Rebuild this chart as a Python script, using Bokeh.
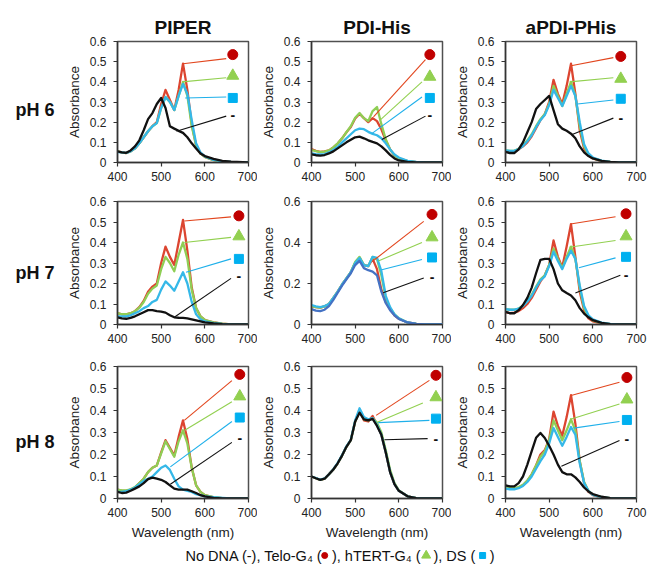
from bokeh.plotting import figure
from bokeh.layouts import column, row
from bokeh.models import Range1d, FixedTicker, ColumnDataSource
from bokeh.embed import file_html
from bokeh.resources import INLINE
from bokeh.core.properties import value

# ---------------- data ----------------
wavelength = [400, 410, 420, 430, 440, 450, 460, 470, 480, 490, 500, 510, 520,
              530, 540, 550, 560, 570, 580, 590, 600, 620, 640, 660, 700]
compounds = ["PIPER", "PDI-His", "aPDI-PHis"]
ph_labels = ["pH 6", "pH 7", "pH 8"]
x_ticks = [400, 500, 600, 700]
y_ticks_fine = [0, 0.1, 0.2, 0.3, 0.4, 0.5, 0.6]
y_labels_fine = ["0", "0.1", "0.2", "0.3", "0.4", "0.5", "0.6"]
y_ticks_coarse = [0, 0.2, 0.4, 0.6]
y_labels_coarse = ["0", "0.2", "0.4", "0.6"]

piper_ph6_none = [.055, .05, .048, .06, .08, .11, .16, .215, .245, .29, .32, .27, .18, .168, .157, .147, .125, .095, .07, .045, .032, .018, .008, .004, 0]
piper_ph6_telo = [.055, .05, .047, .055, .07, .095, .125, .155, .18, .2, .29, .36, .31, .26, .36, .49, .36, .19, .085, .045, .028, .012, .005, .002, 0]
piper_ph6_htert = [.055, .05, .047, .055, .07, .095, .125, .155, .18, .195, .27, .325, .3, .26, .33, .40, .33, .18, .085, .045, .028, .012, .005, .002, 0]
piper_ph6_ds = [.052, .05, .048, .055, .07, .095, .125, .155, .18, .195, .27, .325, .3, .26, .33, .39, .34, .21, .095, .05, .03, .013, .006, .003, 0]

pdi_ph6_none = [.04, .036, .034, .037, .045, .055, .07, .085, .1, .113, .125, .128, .12, .11, .102, .095, .08, .06, .038, .02, .01, .003, 0, 0, 0]
pdi_ph6_telo = [.066, .058, .053, .055, .06, .075, .094, .12, .15, .176, .218, .242, .22, .2, .22, .205, .165, .11, .065, .035, .02, .007, .002, 0, 0]
pdi_ph6_htert = [.062, .056, .052, .054, .06, .075, .095, .12, .15, .18, .222, .245, .22, .205, .255, .275, .19, .115, .065, .035, .02, .007, .002, 0, 0]
pdi_ph6_ds = [.045, .042, .04, .042, .05, .062, .078, .1, .12, .14, .16, .168, .165, .152, .142, .135, .12, .095, .065, .04, .025, .008, .003, 0, 0]

apdi_ph6_none = [.053, .047, .047, .065, .1, .15, .2, .265, .29, .31, .33, .26, .19, .168, .157, .143, .12, .08, .05, .032, .02, .008, .003, 0, 0]
apdi_ph6_telo = [.055, .055, .055, .065, .08, .1, .13, .17, .21, .24, .3, .41, .34, .29, .38, .49, .34, .16, .07, .035, .02, .007, .002, 0, 0]
apdi_ph6_htert = [.06, .058, .058, .068, .085, .11, .14, .18, .215, .24, .29, .38, .33, .28, .34, .4, .33, .18, .08, .04, .022, .008, .003, 0, 0]
apdi_ph6_ds = [.06, .058, .058, .066, .082, .105, .135, .175, .21, .235, .285, .36, .32, .28, .33, .38, .33, .2, .09, .045, .025, .009, .003, 0, 0]

piper_ph7_none = [.035, .03, .028, .032, .04, .05, .06, .07, .07, .065, .063, .058, .045, .035, .033, .032, .03, .025, .02, .015, .01, .005, .002, 0, 0]
piper_ph7_telo = [.055, .05, .05, .055, .065, .085, .115, .16, .185, .2, .3, .38, .33, .29, .4, .51, .36, .18, .08, .04, .022, .01, .004, .001, 0]
piper_ph7_htert = [.055, .05, .05, .055, .065, .082, .11, .15, .175, .19, .27, .33, .3, .26, .34, .4, .32, .17, .08, .04, .022, .01, .004, .001, 0]
piper_ph7_ds = [.04, .04, .04, .045, .055, .065, .08, .09, .11, .12, .17, .21, .19, .165, .21, .255, .2, .11, .05, .025, .015, .007, .003, .001, 0]

pdi_ph7_none = [.075, .068, .065, .072, .09, .12, .155, .19, .22, .25, .29, .31, .275, .265, .258, .24, .16, .105, .07, .045, .027, .01, .003, 0, 0]
pdi_ph7_telo = [.09, .085, .082, .088, .1, .13, .16, .195, .225, .255, .3, .325, .29, .285, .32, .27, .17, .11, .075, .045, .028, .01, .003, 0, 0]
pdi_ph7_htert = [.09, .085, .082, .088, .1, .13, .16, .195, .225, .255, .305, .33, .29, .285, .33, .32, .24, .13, .08, .05, .03, .01, .003, 0, 0]
pdi_ph7_ds = [.095, .088, .085, .09, .1, .13, .16, .195, .225, .255, .3, .325, .29, .285, .33, .325, .26, .14, .085, .05, .03, .01, .003, 0, 0]

apdi_ph7_none = [.062, .055, .055, .07, .095, .13, .18, .25, .315, .32, .32, .27, .2, .167, .154, .142, .118, .08, .053, .035, .021, .008, .002, 0, 0]
apdi_ph7_telo = [.06, .055, .058, .065, .08, .1, .13, .17, .21, .24, .29, .41, .33, .28, .38, .49, .33, .16, .07, .03, .015, .005, .002, 0, 0]
apdi_ph7_htert = [.075, .072, .072, .078, .092, .115, .145, .185, .22, .24, .29, .37, .32, .275, .33, .38, .32, .18, .08, .04, .02, .007, .002, 0, 0]
apdi_ph7_ds = [.075, .072, .072, .077, .09, .112, .14, .18, .215, .235, .285, .355, .31, .27, .32, .36, .32, .19, .09, .045, .025, .009, .003, 0, 0]

piper_ph8_none = [.03, .025, .027, .035, .045, .055, .07, .088, .095, .09, .085, .075, .06, .045, .04, .04, .04, .033, .025, .015, .01, .003, .001, 0, 0]
piper_ph8_telo = [.04, .035, .035, .04, .05, .07, .09, .12, .14, .15, .21, .265, .23, .195, .28, .355, .27, .14, .06, .03, .015, .005, .002, 0, 0]
piper_ph8_htert = [.04, .037, .037, .042, .052, .07, .09, .12, .14, .15, .205, .26, .225, .19, .26, .31, .25, .14, .06, .03, .015, .006, .002, 0, 0]
piper_ph8_ds = [.03, .03, .033, .04, .05, .065, .08, .09, .1, .12, .14, .15, .13, .09, .055, .04, .035, .03, .02, .015, .01, .006, .003, 0, 0]

pdi_ph8_none = [.1, .092, .085, .09, .11, .132, .16, .195, .235, .265, .35, .39, .36, .355, .362, .33, .29, .21, .12, .065, .035, .01, .002, 0, 0]
pdi_ph8_telo = [.1, .092, .085, .09, .11, .132, .16, .195, .235, .265, .35, .4, .355, .35, .375, .335, .29, .21, .12, .065, .035, .01, .002, 0, 0]
pdi_ph8_htert = [.1, .092, .085, .09, .11, .132, .16, .195, .235, .265, .35, .395, .36, .355, .365, .345, .3, .22, .13, .07, .037, .01, .002, 0, 0]
pdi_ph8_ds = [.1, .093, .086, .091, .11, .133, .162, .197, .237, .267, .355, .41, .37, .36, .365, .335, .29, .21, .12, .065, .035, .01, .002, 0, 0]

apdi_ph8_none = [.06, .055, .055, .07, .1, .154, .215, .276, .298, .275, .24, .2, .154, .12, .11, .11, .096, .075, .05, .032, .02, .008, .002, 0, 0]
apdi_ph8_telo = [.05, .045, .045, .05, .06, .08, .11, .15, .2, .22, .27, .395, .33, .285, .37, .47, .34, .17, .07, .03, .015, .005, .002, 0, 0]
apdi_ph8_htert = [.05, .047, .047, .052, .062, .082, .11, .15, .19, .215, .265, .355, .31, .265, .31, .36, .31, .17, .075, .035, .017, .006, .002, 0, 0]
apdi_ph8_ds = [.045, .042, .042, .047, .057, .075, .1, .135, .17, .2, .25, .32, .28, .24, .28, .325, .29, .16, .07, .035, .016, .006, .002, 0, 0]

# callout tags, order: Telo-G4, hTERT-G4, DS, No DNA
piper_ph6_tags = dict(mark_x=664, mark_y=[.535, .43, .32, .235], from_x=[550, 548, 555, 535], from_y=[.49, .40, .32, .155], to_x=[649, 649, 649, 649], to_y=[.515, .42, .325, .23])
pdi_ph6_tags = dict(mark_x=671, mark_y=[.535, .425, .32, .235], from_x=[542, 557, 538, 561], from_y=[.226, .21, .143, .114], to_x=[661, 653, 653, 661], to_y=[.51, .40, .325, .23])
apdi_ph6_tags = dict(mark_x=664, mark_y=[.526, .415, .316, .22], from_x=[550, 547, 565, 554], from_y=[.48, .40, .29, .14], to_x=[647, 647, 647, 647], to_y=[.52, .42, .31, .22])
piper_ph7_tags = dict(mark_x=678, mark_y=[.53, .43, .32, .235], from_x=[553, 553, 557, 530], from_y=[.505, .40, .255, .035], to_x=[660, 660, 660, 660], to_y=[.525, .425, .32, .225])
pdi_ph7_tags = dict(mark_x=676, mark_y=[.537, .425, .327, .23], from_x=[542, 553, 561, 564], from_y=[.312, .31, .267, .155], to_x=[657, 653, 653, 657], to_y=[.503, .40, .317, .227])
apdi_ph7_tags = dict(mark_x=676, mark_y=[.54, .43, .33, .24], from_x=[549, 546, 568, 560], from_y=[.49, .377, .277, .154], to_x=[652, 652, 652, 663], to_y=[.526, .41, .325, .24])
piper_ph8_tags = dict(mark_x=680, mark_y=[.564, .464, .368, .277], from_x=[553, 554, 521, 521], from_y=[.355, .31, .144, .065], to_x=[662, 662, 662, 662], to_y=[.536, .44, .35, .255])
pdi_ph8_tags = dict(mark_x=685, mark_y=[.56, .46, .363, .272], from_x=[548, 552, 553, 567], from_y=[.378, .348, .345, .267], to_x=[670, 655, 670, 666], to_y=[.537, .434, .355, .272])
apdi_ph8_tags = dict(mark_x=678, mark_y=[.55, .45, .357, .27], from_x=[548, 549, 556, 528], from_y=[.467, .36, .32, .147], to_x=[661, 661, 661, 661], to_y=[.528, .43, .35, .264])

panels = [
    [(piper_ph6_none, piper_ph6_telo, piper_ph6_htert, piper_ph6_ds, piper_ph6_tags),
     (pdi_ph6_none, pdi_ph6_telo, pdi_ph6_htert, pdi_ph6_ds, pdi_ph6_tags),
     (apdi_ph6_none, apdi_ph6_telo, apdi_ph6_htert, apdi_ph6_ds, apdi_ph6_tags)],
    [(piper_ph7_none, piper_ph7_telo, piper_ph7_htert, piper_ph7_ds, piper_ph7_tags),
     (pdi_ph7_none, pdi_ph7_telo, pdi_ph7_htert, pdi_ph7_ds, pdi_ph7_tags),
     (apdi_ph7_none, apdi_ph7_telo, apdi_ph7_htert, apdi_ph7_ds, apdi_ph7_tags)],
    [(piper_ph8_none, piper_ph8_telo, piper_ph8_htert, piper_ph8_ds, piper_ph8_tags),
     (pdi_ph8_none, pdi_ph8_telo, pdi_ph8_htert, pdi_ph8_ds, pdi_ph8_tags),
     (apdi_ph8_none, apdi_ph8_telo, apdi_ph8_htert, apdi_ph8_ds, apdi_ph8_tags)],
]

legend_parts = ["No DNA (-), Telo-G\u2084 (", "), hTERT-G\u2084 (", "), DS (", ")"]
legend_markers = ["circle", "triangle", "square"]

# ---------------- styles / layout ----------------
FONT = "Liberation Sans"
C_RED, C_GREEN, C_CYAN, C_BLACK = "#dc4530", "#8fce55", "#35b8e8", "#111111"
C_BLUE = "#4472c4"
LEAD = ["#e2461e", "#92d050", "#1fb0ea", "#111111"]
MARK = ["#c00000", "#92d050", "#00b0f0"]
FRAME_W = 135
FRAME_H = [121, 123, 132]
B_TOP = [41, 16, 19]
B_BOT = [23, 23, 46]
B_LEFT = 50
B_RIGHT = [9, 9, 12]
LABEL_W = 63
LABEL_Y = [0.43, 0.42, 0.43]
AXIS_C = "#333333"


def make_panel(r, c):
    none, telo, htert, ds, tags = panels[r][c]
    h = B_TOP[r] + FRAME_H[r] + B_BOT[r]
    w = B_LEFT + FRAME_W + B_RIGHT[c]
    p = figure(width=w, height=h, x_range=Range1d(400, 700), y_range=Range1d(0, 0.6),
               title=compounds[c] if r == 0 else None,
               output_backend="svg", toolbar_location=None,
               min_border_left=B_LEFT, min_border_right=B_RIGHT[c],
               min_border_top=B_TOP[r], min_border_bottom=B_BOT[r])
    if r == 0:
        p.title.align = "center"
        p.title.text_font = FONT
        p.title.text_font_size = "19px"
        p.title.text_font_style = "bold"
        p.title.text_color = "#111111"
        p.title.standoff = 7
    p.grid.visible = False
    p.outline_line_color = "#505050"
    p.outline_line_width = 1.5
    p.background_fill_color = "white"
    p.border_fill_color = "white"
    coarse = (r == 1 and c == 1)
    yt = y_ticks_coarse if coarse else y_ticks_fine
    yl = y_labels_coarse if coarse else y_labels_fine
    p.yaxis.ticker = FixedTicker(ticks=yt)
    p.yaxis.major_label_overrides = {t: l for t, l in zip(yt, yl)}
    p.xaxis.ticker = FixedTicker(ticks=x_ticks)
    p.yaxis.axis_label = "Absorbance"
    if r == 2:
        p.xaxis.axis_label = "Wavelength (nm)"
    for ax in (p.xaxis[0], p.yaxis[0]):
        ax.axis_line_color = AXIS_C
        ax.axis_line_width = 1.5
        ax.major_tick_line_color = AXIS_C
        ax.major_tick_line_width = 1.2
        ax.major_tick_out = 4
        ax.major_tick_in = 0
        ax.minor_tick_line_color = None
        ax.major_label_text_font = FONT
        ax.major_label_text_font_size = "12px"
        ax.major_label_text_color = "#222222"
        ax.axis_label_text_font = FONT
        ax.axis_label_text_font_size = "13.5px"
        ax.axis_label_text_font_style = "normal"
        ax.axis_label_text_color = "#222222"
        ax.axis_label_standoff = 5
    p.yaxis.major_label_standoff = 7
    p.xaxis.major_label_standoff = 5

    none_color = C_BLUE if (r == 1 and c == 1) else C_BLACK
    for ys, col in ((telo, C_RED), (htert, C_GREEN), (ds, C_CYAN), (none, none_color)):
        p.line(wavelength, ys, line_color=col, line_width=2.3, line_join="round")

    seg = ColumnDataSource(dict(x0=tags["from_x"], y0=tags["from_y"], x1=tags["to_x"],
                                y1=tags["to_y"], color=LEAD))
    p.segment("x0", "y0", "x1", "y1", source=seg, line_color="color", line_width=1.1)
    mk = ColumnDataSource(dict(x=[tags["mark_x"]] * 3, y=tags["mark_y"][:3],
                               marker=legend_markers, color=MARK,
                               size=[10, 12, 9]))
    p.scatter("x", "y", source=mk, marker="marker", size="size", fill_color="color",
              line_color="color")
    p.text(x=[tags["mark_x"]], y=[tags["mark_y"][3]], text=["-"], text_align="center",
           text_baseline="middle", text_font_size="14px", text_font_style="bold",
           text_color="#111111", text_font=value(FONT))
    return p


def make_label(r):
    h = B_TOP[r] + FRAME_H[r] + B_BOT[r]
    f = figure(width=LABEL_W, height=h, x_range=Range1d(0, 1), y_range=Range1d(0, 1),
               x_axis_type=None, y_axis_type=None, output_backend="svg",
               toolbar_location=None, min_border_left=0, min_border_right=0,
               min_border_top=B_TOP[r], min_border_bottom=B_BOT[r])
    f.grid.visible = False
    f.outline_line_color = None
    f.text(x=[15 / LABEL_W], y=[LABEL_Y[r]], text=[ph_labels[r]], text_align="left",
           text_baseline="middle", text_font_size="18px", text_font_style="bold",
           text_color="#111111", text_font=value(FONT))
    return f


rows = []
for r in range(3):
    rows.append(row(make_label(r), make_panel(r, 0), make_panel(r, 1), make_panel(r, 2)))

# bottom legend line (pieces laid out left to right)
LEG_W = 648
LEG_H = 26
LEG_FS = 14.5
leg = figure(width=LEG_W, height=LEG_H, x_range=Range1d(0, LEG_W), y_range=Range1d(0, LEG_H),
             x_axis_type=None, y_axis_type=None, output_backend="svg", toolbar_location=None,
             min_border=0)
leg.grid.visible = False
leg.outline_line_color = None
piece_em = [9.1, 6.0, 2.89, 0.33]   # approximate widths of the text pieces in em
sym_em = 1.0
x = 185.0
px, mx = [], []
for i, wem in enumerate(piece_em):
    px.append(x)
    x += wem * LEG_FS
    if i < 3:
        mx.append(x + sym_em * LEG_FS / 2)
        x += sym_em * LEG_FS
yc = LEG_H - 11
leg.text(x=px, y=[yc] * 4, text=legend_parts, text_align="left",
         text_baseline="middle", text_font_size=f"{LEG_FS}px", text_color="#111111",
         text_font=value(FONT))
leg.scatter(x=mx, y=[yc] * 3, marker=legend_markers,
            size=[6, 9, 6], fill_color=MARK, line_color=MARK)

layout = column(*rows, leg)
open("out.html", "w").write(file_html(layout, INLINE))
